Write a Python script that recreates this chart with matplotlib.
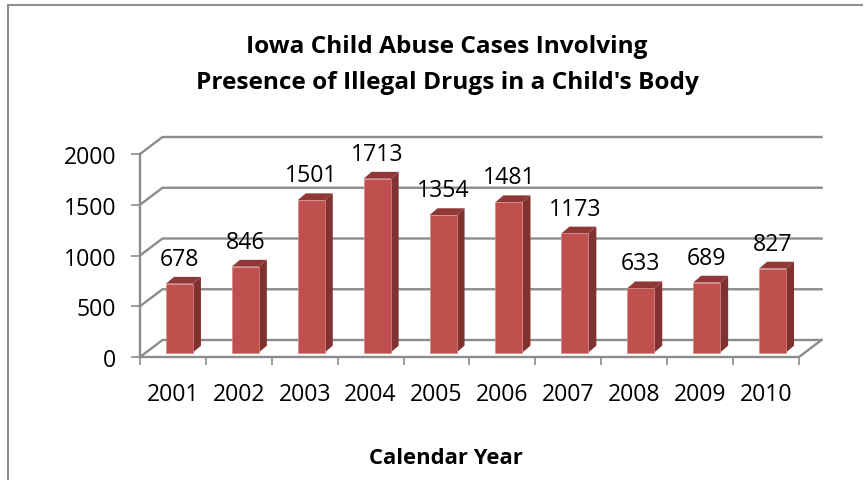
import matplotlib
matplotlib.use("Agg")
import matplotlib.pyplot as plt
from matplotlib.patches import Polygon

years = ["2001", "2002", "2003", "2004", "2005", "2006", "2007", "2008", "2009", "2010"]
cases = [678, 846, 1501, 1713, 1354, 1481, 1173, 633, 689, 827]
yticks = [0, 500, 1000, 1500, 2000]
title = "Iowa Child Abuse Cases Involving\nPresence of Illegal Drugs in a Child's Body"
xlabel = "Calendar Year"

W, H = 866, 481
plt.rcParams["font.family"] = ["Open Sans", "DejaVu Sans"]
fig = plt.figure(figsize=(W / 100, H / 100), dpi=100, facecolor="white")

def px_axes(x0, x1, ytop, ybot):
    return fig.add_axes([x0 / W, 1 - ybot / H, (x1 - x0) / W, (ybot - ytop) / H])

GRID = "#8c8c8c"
LW = 1.7
FS = 16.6
# pixel geometry of the oblique 3-D frame
FX0, FX1, FY0, FY1 = 140, 799, 358, 155
DX, DY = 22.5, 17

ax = px_axes(FX0, FX1, FY1, FY0)
ax.set_xlim(0, len(years))
ax.set_ylim(0, 2000)
ax.patch.set_alpha(0)
for s in ["top", "right", "bottom"]:
    ax.spines[s].set_visible(False)
ax.spines["left"].set_color(GRID)
ax.spines["left"].set_linewidth(LW)

ux = len(years) / (FX1 - FX0)   # data per pixel
uy = 2000 / (FY0 - FY1)

# wall gridlines and floor
for v in yticks:
    ax.plot([0, DX * ux, len(years) + DX * ux], [v, v + DY * uy, v + DY * uy],
            color=GRID, lw=LW, clip_on=False, solid_joinstyle="miter", zorder=1)
ax.plot([0, len(years), len(years) + DX * ux], [0, 0, DY * uy],
        color=GRID, lw=LW, clip_on=False, zorder=1.5)

# bars
bw = 27 * ux
bx = 6.5 * ux
by = 4.5 * uy
ddx, ddy = 8 * ux, 6.8 * uy
xs = [i + 0.5 + bx for i in range(len(years))]
ax.bar(xs, cases, width=bw, bottom=by, color="#c0504d", edgecolor="#d98a88", linewidth=0.5, zorder=3, clip_on=False)
for x, v in zip(xs, cases):
    l, r = x - bw / 2, x + bw / 2
    t = v + by
    ax.add_patch(Polygon([(r, by), (r + ddx, by + ddy), (r + ddx, t + ddy), (r, t)],
                         closed=True, fc="#7f3230", ec="none", zorder=2.9, clip_on=False))
    ax.add_patch(Polygon([(l, t), (l + ddx, t + ddy), (r + ddx, t + ddy), (r, t)],
                         closed=True, fc="#8f3836", ec="none", zorder=2.9, clip_on=False))
    ax.text(x, t + ddy + 12 * uy, str(v), ha="center", va="baseline", fontsize=FS,
            color="black", zorder=5, clip_on=False)

ax.set_xticks(range(len(years) + 1))
ax.set_xticklabels([""] * (len(years) + 1))
ax.tick_params(axis="x", direction="out", length=5.8, width=1.2, color=GRID)
ax.set_yticks(yticks)
ax.set_yticklabels([str(v) for v in yticks], fontsize=FS, color="black")
ax.tick_params(axis="y", direction="out", length=6.5, width=1.2, color=GRID, pad=10.5)
for i, y in enumerate(years):
    ax.annotate(y, (i + 0.5, 0), xycoords="data", xytext=(0, -43), textcoords="offset pixels",
                ha="center", va="baseline", fontsize=FS, color="black", annotation_clip=False)

fig.text(447 / W, 1 - 65 / H, title, ha="center", va="center", fontsize=17.6,
         fontweight="bold", linespacing=1.65, color="black")
fig.text(446 / W, 1 - 458 / H, xlabel, ha="center", va="center", fontsize=15.8,
         fontweight="bold", color="black")

# chart border: left and top edges only are in frame
fig.add_artist(plt.Line2D([8 / W, 8 / W, 862 / W], [0, 1 - 6 / H, 1 - 6 / H],
                          color="#8f8f8f", lw=1.5, solid_joinstyle="miter"))
fig.savefig("out.png", dpi=100, facecolor="white")
